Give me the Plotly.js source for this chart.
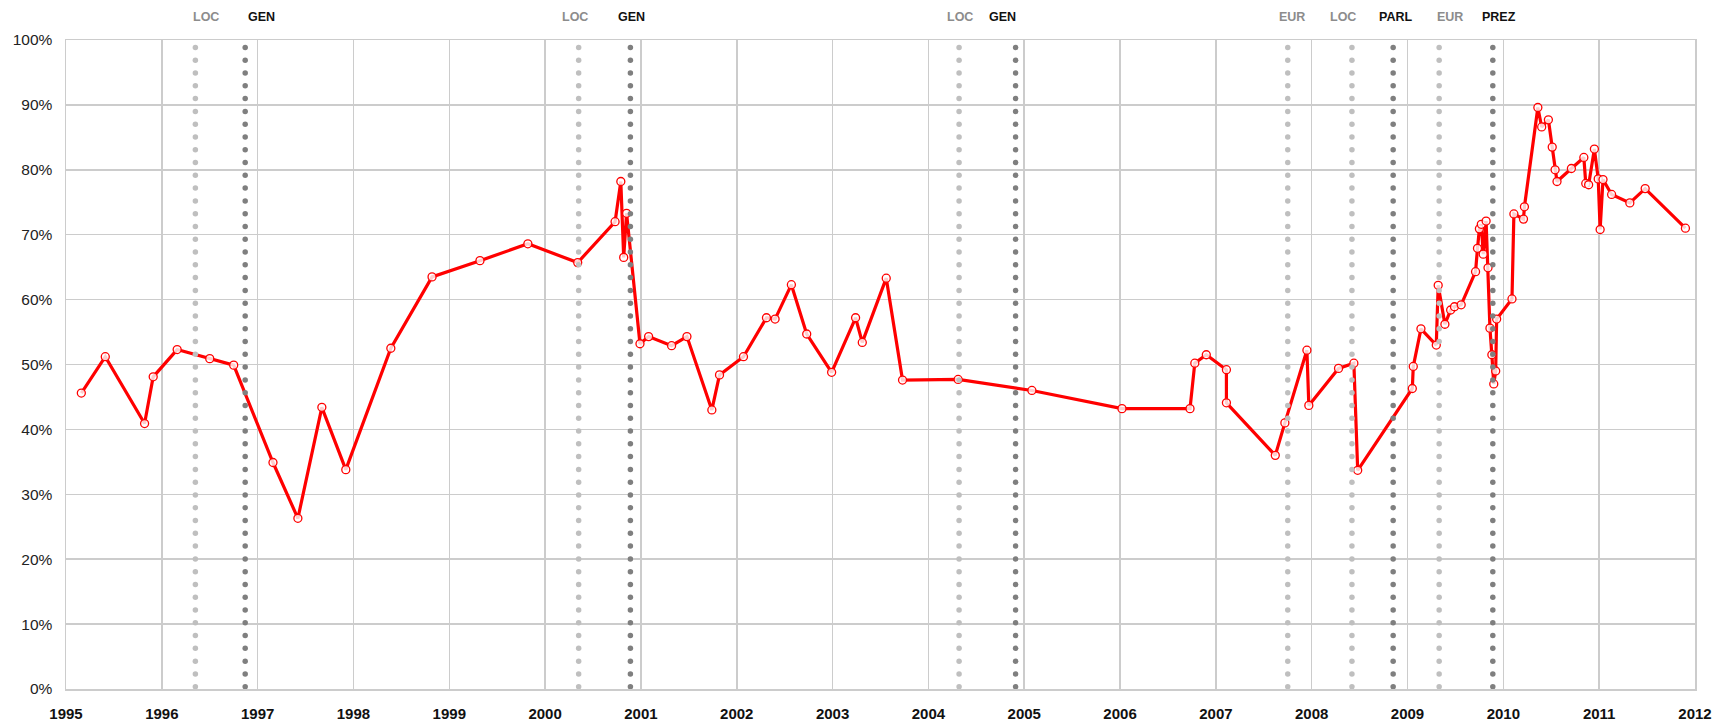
<!DOCTYPE html>
<html>
<head>
<meta charset="utf-8">
<script src="https://cdn.plot.ly/plotly-3.0.1.min.js"></script>
<style>
html,body{margin:0;padding:0;background:#fff;}
#chart{width:1724px;height:723px;}
</style>
</head>
<body>
<div id="chart"></div>
<script>
// Poll dates (decimal years) and values (%)
const pollDates = [
  1995.16, 1995.41, 1995.82, 1995.91, 1996.16, 1996.50, 1996.75,
  1997.16, 1997.42, 1997.67, 1997.92, 1998.39, 1998.82, 1999.32, 1999.82,
  2000.34, 2000.73, 2000.79, 2000.82, 2000.85, 2000.99,
  2001.08, 2001.32, 2001.48, 2001.74, 2001.82, 2002.07, 2002.31, 2002.40,
  2002.57, 2002.73, 2002.99, 2003.24, 2003.31, 2003.56, 2003.73, 2004.31,
  2005.08, 2006.02, 2006.73, 2006.78, 2006.90, 2007.11, 2007.11,
  2007.62, 2007.72, 2007.95, 2007.97, 2008.28, 2008.44, 2008.48,
  2009.05, 2009.06, 2009.14, 2009.30, 2009.32, 2009.39, 2009.45, 2009.49, 2009.56,
  2009.71, 2009.73, 2009.75, 2009.77, 2009.79, 2009.82, 2009.84, 2009.86,
  2009.88, 2009.90, 2009.92, 2009.93, 2010.09, 2010.11, 2010.21, 2010.22,
  2010.36, 2010.40, 2010.47, 2010.51, 2010.54, 2010.56, 2010.71, 2010.84,
  2010.86, 2010.89, 2010.95, 2010.99, 2011.01, 2011.04, 2011.13, 2011.32,
  2011.48, 2011.90
];
const pollValues = [
  45.6, 51.2, 40.9, 48.1, 52.3, 50.9, 49.9,
  34.9, 26.3, 43.4, 33.8, 52.5, 63.5, 66.0, 68.6,
  65.7, 72.0, 78.2, 66.5, 73.3, 53.2,
  54.3, 52.9, 54.3, 43.0, 48.4, 51.2, 57.2, 57.0,
  62.3, 54.7, 48.8, 57.2, 53.4, 63.3, 47.6, 47.7,
  46.0, 43.2, 43.2, 50.2, 51.5, 49.2, 44.1,
  36.0, 41.0, 52.2, 43.7, 49.4, 50.2, 33.7,
  46.3, 49.7, 55.5, 53.0, 62.2, 56.2, 58.4, 58.9, 59.2,
  64.3, 67.9, 70.9, 71.6, 67.0, 72.1, 64.9, 55.6,
  51.5, 47.0, 49.0, 57.0, 60.1, 73.2, 72.4, 74.3,
  89.6, 86.6, 87.7, 83.5, 80.0, 78.2, 80.2, 81.9,
  77.9, 77.7, 83.2, 78.6, 70.8, 78.5, 76.2, 74.9,
  77.1, 71.0
];

// Elections
const electionDates  = [1996.35, 1996.87, 2000.35, 2000.89, 2004.32, 2004.91, 2007.75, 2008.42, 2008.85, 2009.33, 2009.89];
const electionLabels = ['LOC', 'GEN', 'LOC', 'GEN', 'LOC', 'GEN', 'EUR', 'LOC', 'PARL', 'EUR', 'PREZ'];
const electionMajor  = [false, true, false, true, false, true, false, false, true, false, true];
const labelShiftPx   = [11, 16, -4, 1, 1, -13, 4, -9, 2, 11, 6];

const yearTicks = [];
for (let y = 1995; y <= 2012; y++) yearTicks.push(y);

const traces = [];
traces.push({
  x: pollDates, y: pollValues, type: 'scatter', mode: 'lines+markers',
  line: {color: '#ff0000', width: 3.2},
  marker: {symbol: 'circle', size: 8, color: 'rgba(255,255,255,0.8)', line: {color: '#ff0000', width: 1.3}},
  hoverinfo: 'x+y', showlegend: false
});

// dotted election lines as rows of round dots
const dotY = [];
for (let k = 0; k <= 50; k++) dotY.push(0.35 + k * 1.97);
electionDates.forEach((d, i) => {
  traces.push({
    x: dotY.map(() => d), y: dotY, type: 'scatter', mode: 'markers',
    marker: {size: 5.5, color: electionMajor[i] ? '#7f7f7f' : '#bfbfbf'},
    hoverinfo: 'skip', showlegend: false
  });
});

const annotations = electionDates.map((d, i) => ({
  x: d, xref: 'x', y: 1.035, yref: 'paper', yanchor: 'middle', xanchor: 'center',
  xshift: labelShiftPx[i], showarrow: false, text: electionLabels[i],
  font: {family: 'Liberation Sans, Arial, sans-serif', size: 12.5,
         color: electionMajor[i] ? '#111111' : '#8c8c8c',
         weight: 'bold'}
}));

const layout = {
  width: 1724, height: 723,
  margin: {l: 66, r: 29, t: 40, b: 34},
  paper_bgcolor: '#ffffff', plot_bgcolor: '#ffffff',
  showlegend: false,
  xaxis: {
    range: [1995, 2012], tickmode: 'array', tickvals: yearTicks,
    ticktext: yearTicks.map(String),
    showgrid: true, gridcolor: '#cccccc', gridwidth: 1.5,
    showline: true, mirror: true, linecolor: '#cccccc', linewidth: 1.5,
    zeroline: false, ticks: '', ticklabelstandoff: 10,
    tickfont: {family: 'Liberation Sans, Arial, sans-serif', size: 15, color: '#111111', weight: 'bold'}
  },
  yaxis: {
    range: [0, 100], dtick: 10, tick0: 0, ticksuffix: '%',
    showgrid: true, gridcolor: '#cccccc', gridwidth: 1.5,
    showline: true, mirror: true, linecolor: '#cccccc', linewidth: 1.5,
    zeroline: false, ticks: '', ticklabelstandoff: 9,
    tickfont: {family: 'Liberation Sans, Arial, sans-serif', size: 15.5, color: '#222222'}
  },
  annotations: annotations
};

Plotly.newPlot('chart', traces, layout, {displayModeBar: false, staticPlot: true});
</script>
</body>
</html>
